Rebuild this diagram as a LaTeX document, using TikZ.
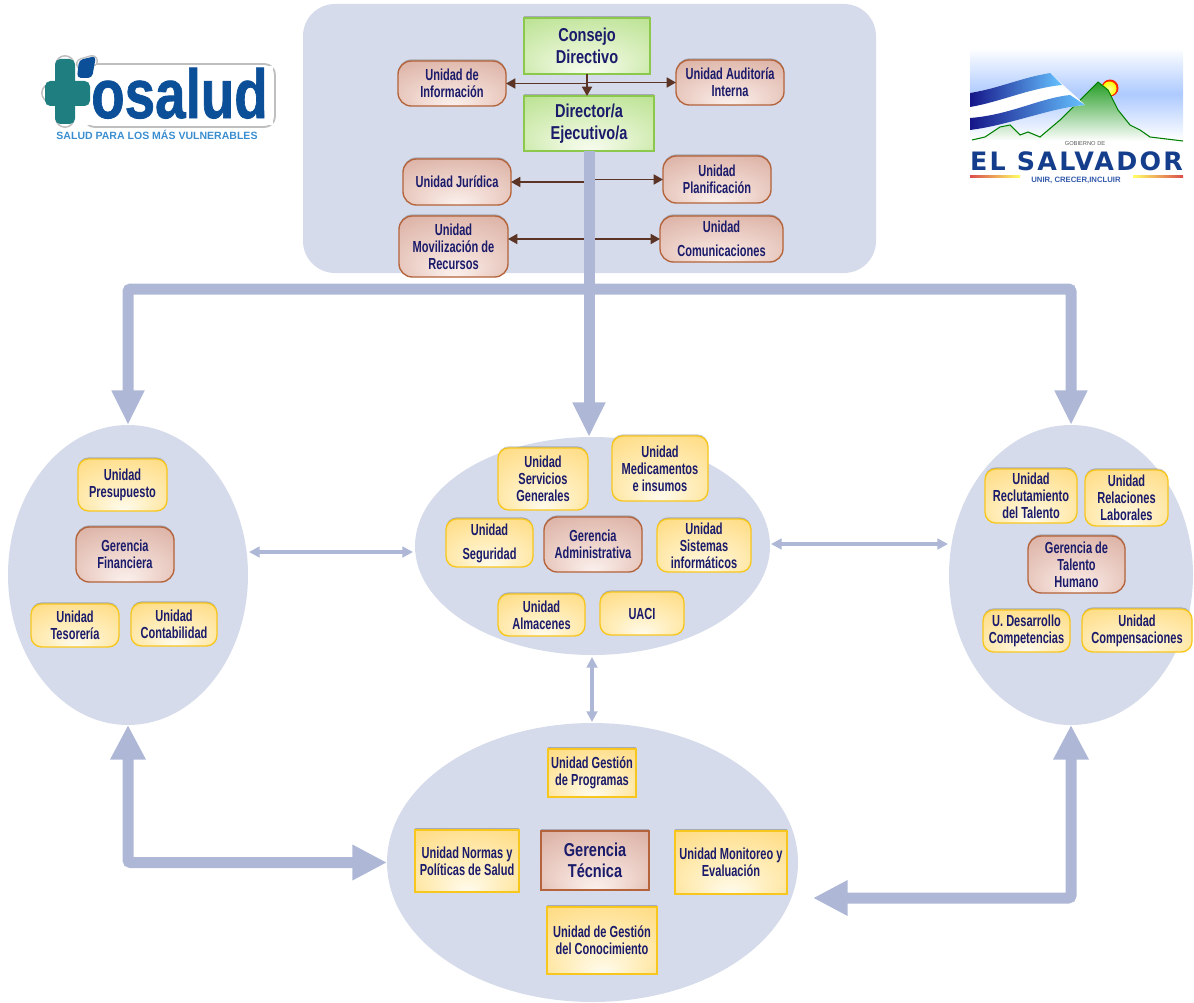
\documentclass[tikz,border=0pt]{standalone}
\usepackage{fontspec}
\usetikzlibrary{shapes.geometric,arrows.meta,shadows,calc}
\setmainfont{Liberation Sans}
\newfontfamily\unitfont[FakeStretch=0.69]{Liberation Sans}
\newfontfamily\headfont[FakeStretch=0.78]{Liberation Sans}
\newfontfamily\heavyfont[FakeBold=1.2]{Liberation Sans Bold}
\newfontfamily\wide{DejaVu Sans}
\definecolor{navy}{HTML}{1B1B6B}
\definecolor{panelc}{HTML}{D5DBEA}
\definecolor{barc}{HTML}{AEB8D6}
\definecolor{brownc}{HTML}{5B3426}
\definecolor{fblue}{HTML}{0B4F98}
\definecolor{fteal}{HTML}{1F7F80}
\definecolor{brnin}{HTML}{FBF1EE}
\definecolor{brnmid}{HTML}{F0D8D0}
\definecolor{brnout}{HTML}{D3A092}
\definecolor{ylwin}{HTML}{FFFBEE}
\definecolor{ylwmid}{HTML}{FFEFC0}
\definecolor{ylwout}{HTML}{FFD46A}
\definecolor{grnin}{HTML}{F8FCF0}
\definecolor{grnmid}{HTML}{E2F3CC}
\definecolor{grnout}{HTML}{ACDC7C}
\definecolor{brnline}{HTML}{B4633A}
\definecolor{ylwline}{HTML}{F8C71E}
\definecolor{grnline}{HTML}{8CC84B}
\pgfdeclareradialshading{brnshade}{\pgfpoint{0bp}{-25bp}}{color(0bp)=(brnin); color(15bp)=(brnmid); color(48bp)=(brnout)}
\pgfdeclareradialshading{ylwshade}{\pgfpoint{0bp}{-25bp}}{color(0bp)=(ylwin); color(15bp)=(ylwmid); color(48bp)=(ylwout)}
\pgfdeclareradialshading{grnshade}{\pgfpoint{0bp}{-25bp}}{color(0bp)=(grnin); color(15bp)=(grnmid); color(48bp)=(grnout)}
\tikzset{
  x=0.75pt,y=-0.75pt,
  boxbase/.style={inner sep=0pt,outer sep=0pt,align=center,text=navy,font=\unitfont\bfseries\fontsize{12}{12.9}\selectfont,
    drop shadow={shadow xshift=0pt,shadow yshift=1.2pt,opacity=.22,fill=black}},
  brownbox/.style={boxbase,rounded corners=10pt,shading=brnshade,draw=brnline,line width=1pt},
  yellowbox/.style={boxbase,rounded corners=8pt,shading=ylwshade,draw=ylwline,line width=1pt},
  yellowrect/.style={boxbase,shading=ylwshade,draw=ylwline,line width=1pt},
  greenbox/.style={boxbase,shading=grnshade,draw=grnline,line width=1pt,font=\headfont\bfseries\fontsize{14}{16.5}\selectfont},
  techbox/.style={boxbase,shading=brnshade,draw=brnline,line width=1pt,font=\headfont\bfseries\fontsize{14}{15.5}\selectfont},
  oval/.style={ellipse,fill=panelc,inner sep=0pt,outer sep=0pt},
  thinarrow/.style={draw=brownc,line width=1.3pt,-{Triangle[length=7pt,width=7.5pt]}},
  bigarrow/.style={draw=barc,line width=8.25pt,-{Triangle[length=26pt,width=23pt]}},
  bigtwoway/.style={draw=barc,line width=8.25pt,{Triangle[length=26pt,width=25pt]}-{Triangle[length=26pt,width=25pt]}},
  smalltwoway/.style={draw=barc,line width=2.6pt,{Triangle[length=8pt,width=8pt]}-{Triangle[length=8pt,width=8pt]}},
}
\newcommand\bx[7]{\node[#2,minimum width={(#5-#3)*0.75pt},minimum height={(#6-#4)*0.75pt}] (#1) at ({(#3+#5)/2},{(#4+#6)/2}) {#7};}
\newcommand\ov[6]{\node[oval,minimum width={(#4-#2)*0.75pt},minimum height={(#5-#3)*0.75pt}] (#1) at ({(#2+#4)/2},{(#3+#5)/2}) {#6};}
\begin{document}
\begin{tikzpicture}
\useasboundingbox (0,0) rectangle (1194,1002);
% --- background
\fill[panelc,rounded corners=24pt] (303,4) rectangle (876,273);
\ov{lft}{8}{425}{248}{725}{}
\ov{cen}{415}{437}{770}{655}{}
\ov{rgt}{949}{425}{1193}{725}{}
\ov{bot}{387}{723}{798}{1002}{}
% --- top boxes
\bx{cons}{greenbox}{524}{18}{650}{74}{Consejo\\Directivo}
\bx{dir}{greenbox}{524}{96}{654}{151}{Director/a\\Ejecutivo/a}
\bx{info}{brownbox}{398}{61}{506}{106}{Unidad de\\Información}
\bx{aud}{brownbox}{676}{60}{784}{105}{Unidad Auditoría\\Interna}
\bx{jur}{brownbox}{403}{159}{511}{205}{Unidad Jurídica}
\bx{plan}{brownbox}{663}{156}{771}{203}{Unidad\\Planificación}
\bx{mov}{brownbox}{399}{216}{508}{277}{Unidad\\Movilización de\\Recursos}
\bx{com}{brownbox}{660}{216}{783}{262}{Unidad\\[5pt]Comunicaciones}
% --- brown connectors
\coordinate (movp) at (508,239);
\draw[thinarrow] (cons.south) -- (cons.south |- dir.north);
\draw[thinarrow] (cons.south) |- (info.east);
\draw[thinarrow] (cons.south) |- (aud.west);
\draw[thinarrow] (dir.south) |- (jur.east);
\draw[thinarrow] (dir.south) |- (plan.west);
\draw[thinarrow] (dir.south) |- (movp);
\draw[thinarrow] (dir.south) |- (com.west);
% --- big arrows
\coordinate (jn) at (589,289);
\draw[bigarrow] (dir.south) -- (dir.south |- cen.north);
\draw[bigarrow,rounded corners=2pt] (jn) -| (lft.north);
\draw[bigarrow,rounded corners=2pt] (jn) -| (rgt.north);
\coordinate (rp) at (813,898);
\draw[bigtwoway,rounded corners=2pt] (lft.south) |- (bot.west);
\draw[bigtwoway,rounded corners=2pt] (rgt.south) |- (rp);
% --- small two-way arrows
\coordinate (la) at (249,552); \coordinate (lb) at (413,552);
\coordinate (ra) at (771,544); \coordinate (rb) at (948,544);
\coordinate (va) at (592,657); \coordinate (vb) at (592,722);
\draw[smalltwoway] (la) -- (lb);
\draw[smalltwoway] (ra) -- (rb);
\draw[smalltwoway] (va) -- (vb);
% --- left group
\bx{pres}{yellowbox}{78}{459}{167}{511}{Unidad\\Presupuesto}
\bx{gfin}{brownbox}{76}{527}{174}{582}{Gerencia\\Financiera}
\bx{teso}{yellowbox}{31}{604}{119}{647}{Unidad\\Tesorería}
\bx{cont}{yellowbox}{131}{603}{217}{646}{Unidad\\Contabilidad}
% --- centre group
\bx{serv}{yellowbox}{498}{448}{588}{510}{Unidad\\Servicios\\Generales}
\bx{medi}{yellowbox}{612}{436}{708}{501}{Unidad\\Medicamentos\\e insumos}
\bx{segu}{yellowbox}{446}{519}{533}{567}{Unidad\\[5pt]Seguridad}
\bx{gadm}{brownbox}{544}{517}{642}{572}{Gerencia\\Administrativa}
\bx{sist}{yellowbox}{657}{519}{751}{572}{Unidad\\Sistemas\\informáticos}
\bx{alma}{yellowbox}{498}{594}{585}{636}{Unidad\\Almacenes}
\bx{uaci}{yellowbox}{600}{592}{684}{635}{UACI}
% --- right group
\bx{recl}{yellowbox}{985}{469}{1077}{523}{Unidad\\Reclutamiento\\del Talento}
\bx{rela}{yellowbox}{1085}{470}{1168}{526}{Unidad\\Relaciones\\Laborales}
\bx{gth}{brownbox}{1028}{536}{1125}{593}{Gerencia de\\Talento\\Humano}
\bx{desa}{yellowbox}{983}{610}{1070}{652}{U. Desarrollo\\Competencias}
\bx{comp}{yellowbox}{1082}{609}{1192}{652}{Unidad\\Compensaciones}
% --- bottom group
\bx{gpro}{yellowrect}{548}{749}{636}{797}{Unidad Gestión\\de Programas}
\bx{norm}{yellowrect}{415}{830}{519}{892}{Unidad Normas y\\Políticas de Salud}
\bx{gtec}{techbox}{541}{831}{649}{890}{Gerencia\\Técnica}
\bx{moni}{yellowrect}{675}{831}{787}{894}{Unidad Monitoreo y\\Evaluación}
\bx{gcon}{yellowrect}{547}{907}{657}{974}{Unidad de Gestión\\del Conocimiento}
% --- fosalud logo
\fill[white,draw=black!25,line width=1.4pt,rounded corners=8pt] (84,64) rectangle (275,127);
\draw[black!25,line width=15pt,line join=round,line cap=round] (65,65)--(65,118) (51,93)--(84,93);
\draw[black!25,line width=9pt,line join=round,line cap=round] (82,64)--(92,61);
\draw[white,line width=12.5pt,line join=round,line cap=round] (65,65)--(65,118) (51,93)--(84,93);
\draw[white,line width=7pt,line join=round,line cap=round] (82,64)--(92,61);
\fill[white] (82,66) rectangle (273,125);
\fill[fteal,rounded corners=4pt] (55,59) rectangle (75,124);
\fill[fteal,rounded corners=4pt] (45,81) rectangle (90,106);
\fill[fblue,rounded corners=3pt] (79,60)--(96,56)--(92,78)--(77,78)--cycle;
\node[inner sep=0pt,anchor=base west,text=fblue,font=\heavyfont\fontsize{52}{52}\selectfont,xscale=.79] (flogo) at (91,118) {osalud};
\node[inner sep=0pt,text={rgb,255:red,58;green,142;blue,208},font=\bfseries\fontsize{7.9}{10}\selectfont] (ftag) at (157,134.5) {SALUD PARA LOS MÁS VULNERABLES};
% --- El Salvador logo
\shade[top color=white,bottom color=white,middle color=cyan!35!blue!32!white] (970,48) rectangle (1183,140);
\fill[red!70!orange] (1110,88) circle (8.5);
\shade[inner color=white!60!yellow,outer color=yellow] (1109.5,88.5) circle (7);
\shade[top color=green!55!black!85!white,bottom color=white] (972,140)--(985,137)--(1000,127)--(1010,125)--(1020,135)--(1028,132)--(1040,137)--(1060,120)--(1082,98)--(1098,82)--(1108,90)--(1118,110)--(1130,125)--(1140,130)--(1150,137)--(1183,141)--cycle;
\draw[green!50!black,line width=.8pt] (972,140)--(985,137)--(1000,127)--(1010,125)--(1020,135)--(1028,132)--(1040,137)--(1060,120)--(1082,98)--(1098,82)--(1108,90)--(1118,110)--(1130,125)--(1140,130)--(1150,137)--(1183,141);
\fill[white] (970,93) .. controls (1000,88) and (1020,78) .. (1050,73) -- (1085,105) .. controls (1050,108) and (1010,125) .. (970,130) -- cycle;
\shade[left color=navy!80!blue,right color=cyan!60!blue!60!white] (970,93) .. controls (1000,88) and (1020,78) .. (1050,73) -- (1062,85) .. controls (1030,88) and (1000,102) .. (970,107) -- cycle;
\shade[left color=navy!80!blue,right color=cyan!60!blue!60!white] (970,118) .. controls (1010,115) and (1040,98) .. (1070,95) -- (1085,105) .. controls (1050,108) and (1010,125) .. (970,130) -- cycle;
\node[inner sep=0pt,text=black!65,font=\fontsize{4.3}{5}\selectfont] (gob) at (1085,143.5) {GOBIERNO DE};
\node[inner sep=0pt,text={rgb,255:red,20;green,62;blue,140},font=\wide\bfseries\fontsize{19}{19}\selectfont,anchor=base] (sal) at (1076.5,171) {\addfontfeature{LetterSpace=9}EL SALVADOR};
\shade[left color=red!80!black!70!white,right color=yellow!60!white] (970,175) rectangle (1020,177);
\shade[left color=yellow!60!white,right color=red!80!black!70!white] (1133,175) rectangle (1183,177);
\node[inner sep=0pt,text={rgb,255:red,50;green,90;blue,170},font=\bfseries\fontsize{5.8}{6}\selectfont] (lema) at (1076,180.5) {UNIR, CRECER,INCLUIR};
\end{tikzpicture}
\end{document}
